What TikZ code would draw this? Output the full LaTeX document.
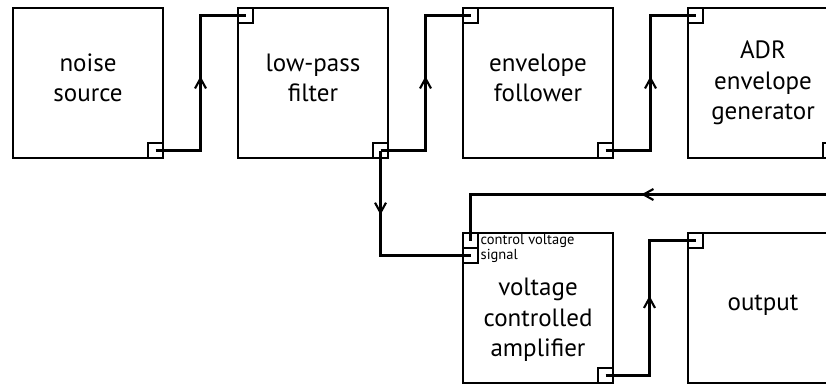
\documentclass[tikz,border=0pt]{standalone}
\usepackage{fontspec}
\setmainfont{PT Sans}
\usetikzlibrary{arrows.meta, positioning, decorations.markings}

\begin{document}
\begin{tikzpicture}[
  x=1pt, y=-1pt,
  block/.style={draw, line width=1.8pt, minimum size=150pt, inner sep=0pt, outer sep=0pt},
  port/.style={draw, line width=1.1pt, minimum size=15pt, inner sep=0pt, outer sep=0pt},
  caption/.style={align=center, font=\fontsize{25}{30.5}\selectfont},
  portlabel/.style={font=\fontsize{14.5}{16}\selectfont, inner sep=2.5pt},
  wire/.style={line width=2.1pt},
  midarrow/.style={postaction={decorate}, decoration={markings,
    mark=at position #1 with {\arrow{Straight Barb[length=10pt, width=11pt]}}}}
]
\useasboundingbox (0,0) rectangle (826,383);
\clip (0,0) rectangle (826,383);

\node[block] (noise) at (88,83) {};
\node[block, right=75pt of noise] (lowpass) {};
\node[block, right=75pt of lowpass] (follower) {};
\node[block, right=75pt of follower] (adr) {};
\node[block, below=75pt of follower] (vca) {};
\node[block, right=75pt of vca] (output) {};

\node[caption] (noisetext) at ([yshift=5pt]noise.center) {noise\\source};
\node[caption] (lowpasstext) at ([yshift=5pt]lowpass.center) {low-pass\\filter};
\node[caption] (followertext) at ([yshift=5pt]follower.center) {envelope\\follower};
\node[caption] (adrtext) at (adr.center) {ADR\\envelope\\generator};
\node[caption] (vcatext) at ([yshift=-12pt]vca.center) {voltage\\controlled\\amplifier};
\node[caption] (outputtext) at ([yshift=3pt]output.center) {output};

\node[port, anchor=south east] (noiseout) at (noise.south east) {};
\node[port, anchor=north west] (lowpassin) at (lowpass.north west) {};
\node[port, anchor=south east] (lowpassout) at (lowpass.south east) {};
\node[port, anchor=north west] (followerin) at (follower.north west) {};
\node[port, anchor=south east] (followerout) at (follower.south east) {};
\node[port, anchor=north west] (adrin) at (adr.north west) {};
\node[port, anchor=south east] (adrout) at (adr.south east) {};
\node[port, anchor=north west] (cvin) at (vca.north west) {};
\node[port, anchor=north west] (signalin) at (cvin.south west) {};
\node[port, anchor=south east] (vcaout) at (vca.south east) {};
\node[port, anchor=north west] (outputin) at (output.north west) {};

\node[portlabel, anchor=west] (cvtext) at (cvin.east) {control voltage};
\node[portlabel, anchor=west] (signaltext) at (signalin.east) {signal};

\draw[wire, midarrow=0.53] (noiseout.center) -- ++(45,0) |- (lowpassin.center);
\draw[wire, midarrow=0.53] (lowpassout.center) -- ++(45,0) |- (followerin.center);
\draw[wire, midarrow=0.53] (followerout.center) -- ++(45,0) |- (adrin.center);
\draw[wire, midarrow=0.33] (lowpassout.center) |- (signalin.center);
\draw[wire, midarrow=0.575] (adrout.center) -- ++(30,0) -- ++(0,44) -| (cvin.center);
\draw[wire, midarrow=0.55] (vcaout.center) -- ++(44,0) |- (outputin.center);
\end{tikzpicture}
\end{document}
